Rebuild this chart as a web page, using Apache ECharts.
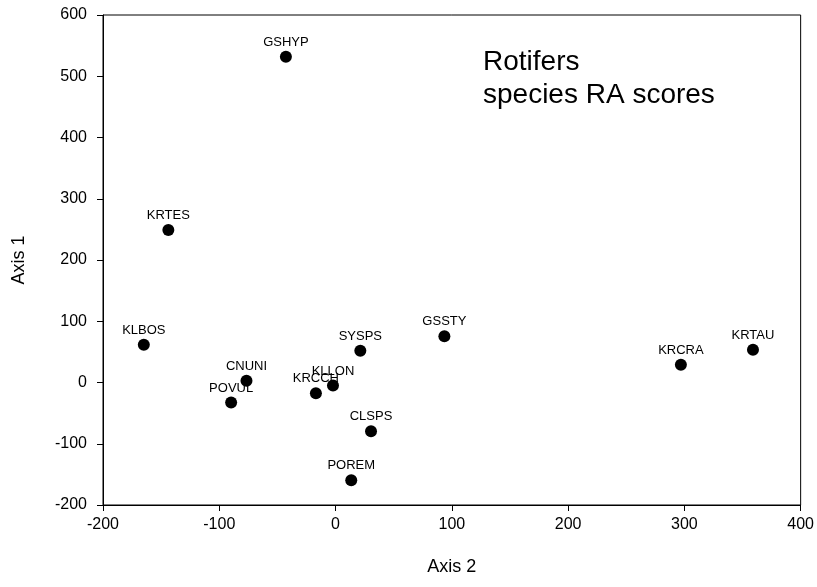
<!DOCTYPE html>
<html>
<head>
<meta charset="utf-8">
<script src="https://cdn.jsdelivr.net/npm/echarts@6/dist/echarts.min.js"></script>
<style>html,body{margin:0;padding:0;background:#fff}#c{width:817px;height:587px}</style>
</head>
<body>
<div id="c"></div>
<script>
const species = ['GSHYP','KRTES','KLBOS','CNUNI','POVUL','KRCCH','KLLON','SYSPS','CLSPS','POREM','GSSTY','KRCRA','KRTAU'];
const axis2 = [-42.7,-143.8,-164.9,-76.6,-89.8,-16.9,-2.2,21.3,30.5,13.5,93.6,297,359];
const axis1 = [531.8,249,61.8,2.8,-32.8,-17.4,-4.9,52,-79.7,-159.5,75.4,29,53.6];
const titleLines = ['Rotifers','species RA scores'];

const FONT = '"Liberation Sans", Arial, sans-serif';
const chart = echarts.init(document.getElementById('c'), null, {renderer:'canvas'});
chart.setOption({
  animation:false,
  backgroundColor:'#fff',
  textStyle:{fontFamily:FONT},
  grid:{left:103,right:16,top:15,bottom:82,show:true,borderColor:'#000',borderWidth:1},
  xAxis:{
    type:'value',min:-200,max:400,interval:100,
    name:'Axis 2',nameLocation:'middle',nameGap:53,
    nameTextStyle:{fontFamily:FONT,fontSize:18,color:'#000'},
    axisLine:{show:true,onZero:false,lineStyle:{color:'#000',width:1}},
    axisTick:{show:true,inside:false,length:6,lineStyle:{color:'#000'}},
    axisLabel:{fontFamily:FONT,fontSize:16,color:'#000',margin:12},
    splitLine:{show:false}
  },
  yAxis:{
    type:'value',min:-200,max:600,interval:100,
    name:'Axis 1',nameLocation:'middle',nameGap:75,nameRotate:90,
    nameTextStyle:{fontFamily:FONT,fontSize:18,color:'#000'},
    axisLine:{show:true,onZero:false,lineStyle:{color:'#000',width:1}},
    axisTick:{show:true,inside:false,length:6,lineStyle:{color:'#000'}},
    axisLabel:{fontFamily:FONT,fontSize:16,color:'#000',margin:16},
    splitLine:{show:false}
  },
  graphic:[{
    type:'text',left:483,top:46,
    style:{text:titleLines.join('\n'),font:'28px "Liberation Sans", Arial, sans-serif',fill:'#000',lineHeight:33}
  }],
  series:[{
    type:'scatter',
    symbol:'circle',symbolSize:12,
    itemStyle:{color:'#000',opacity:1},
    data:axis2.map((x,i)=>({value:[x,axis1[i]],name:species[i]})),
    label:{show:true,position:'top',distance:2,formatter:p=>p.name,fontFamily:FONT,fontSize:13,color:'#000'},
    labelLayout:{hideOverlap:false}
  }]
});
</script>
</body>
</html>
